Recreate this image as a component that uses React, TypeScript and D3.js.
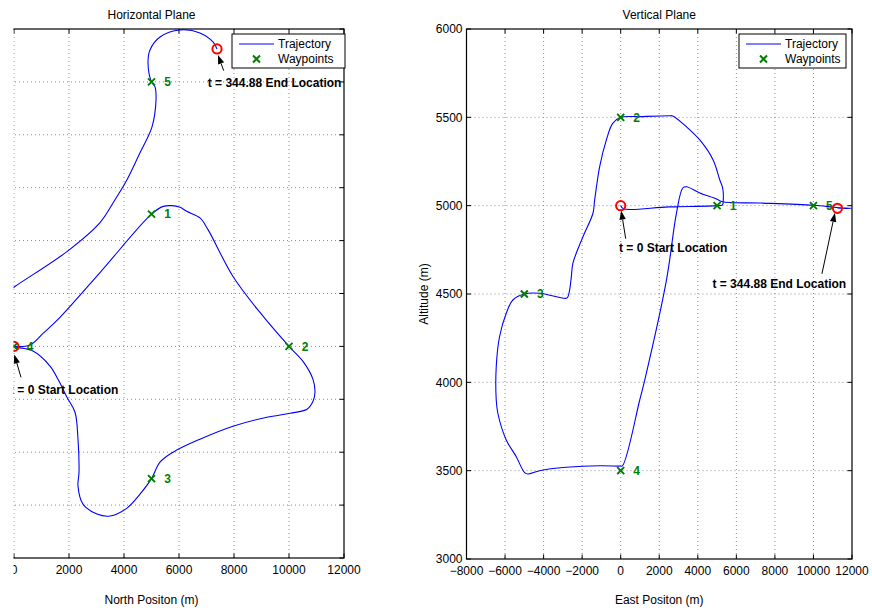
import React from 'react';
import * as d3 from 'd3';

type Pt = [number, number];

// waypoints (numbered 1..5)
const wpLabels = ['1', '2', '3', '4', '5'];
const wpNorth = [5000, 10000, 5000, 0, 5000];
const wpEast = [5000, 0, -5000, 0, 10000];
const wpAlt = [5000, 5500, 4500, 3500, 5000];

const startPoint = { north: 0, east: 0, alt: 5000 };
const endPoint = { north: 7382, east: 11245, alt: 4985 };
const startText = 't = 0 Start Location';
const endText = 't = 344.88 End Location';

// axis ticks
const northDomain: Pt = [-2000, 12000];
const northTicks = [0, 2000, 4000, 6000, 8000, 10000, 12000];
const eastDomain: Pt = [-8000, 12000];
const eastTicks = [-8000, -6000, -4000, -2000, 0, 2000, 4000, 6000, 8000, 10000, 12000];
const altDomain: Pt = [3000, 6000];
const altTicks = [3000, 3500, 4000, 4500, 5000, 5500, 6000];

// horizontal track, [north, east]
const horizTrack: Pt[] = [
  [0, 0], [582, 57], [1055, 491], [1600, 1019], [3127, 2792], [5000, 5000],
  [5429, 5294], [5735, 5321], [6036, 5257], [6280, 5106], [6764, 4857], [7055, 4415],
  [7964, 2642], [8945, 1283], [10000, 0], [10509, -566], [10873, -1245], [10945, -1736],
  [10873, -2075], [10655, -2377], [10036, -2528], [9200, -2679], [7964, -3019],
  [6764, -3509], [5782, -4000], [5309, -4377], [5000, -5000], [4582, -5585],
  [4109, -6113], [3491, -6415], [3018, -6340], [2509, -5962], [2327, -5283],
  [2364, -4755], [2327, -3509], [2218, -2491], [1927, -1925], [1600, -1245],
  [1309, -743], [691, -177], [0, 0],
  [-500, 250], [-800, 800], [-700, 1500], [-300, 2000], [36, 2264], [1927, 3585],
  [3127, 4679], [3673, 5547], [4109, 6302], [4582, 7321], [5018, 8302], [5164, 9321],
  [5127, 9811], [5000, 10000], [4873, 10717], [4945, 11208], [5309, 11698],
  [6036, 11962], [6764, 11849], [7236, 11509], [7382, 11245],
];

// vertical track, [east, altitude]
const vertTrack: Pt[] = [
  [0, 5000], [150, 4982], [2500, 4993], [5000, 5000], [5280, 5005], [5320, 5030],
  [5290, 5100], [5143, 5145], [4795, 5259], [4104, 5372], [3429, 5445], [2701, 5508],
  [2545, 5509], [987, 5504], [0, 5500], [-416, 5466], [-743, 5372], [-1091, 5221],
  [-1351, 5032], [-1439, 4957], [-1958, 4824], [-2478, 4675], [-2561, 4598],
  [-2649, 4523], [-2738, 4485], [-2821, 4476], [-4208, 4504], [-5000, 4500],
  [-5595, 4466], [-5938, 4391], [-6286, 4258], [-6457, 4089], [-6457, 3900],
  [-6374, 3825], [-5938, 3674], [-5418, 3579], [-4987, 3489], [-4816, 3481],
  [-4208, 3500], [-2821, 3519], [-1091, 3528], [-52, 3526], [88, 3527],
  [987, 3900], [1247, 4013], [2374, 4579], [2893, 4958], [3221, 5100], [3413, 5107],
  [4104, 5072], [4971, 5038], [5283, 5022], [7221, 5015], [10000, 5002],
  [11208, 4990], [11962, 4985], [11509, 4985], [11245, 4985],
];

const FONT = '"Liberation Sans", Arial, Helvetica, sans-serif';
const fmt = (v: number) => (v < 0 ? '\u2212' + Math.abs(v) : String(v));

function Arrow({ x1, y1, x2, y2 }: { x1: number; y1: number; x2: number; y2: number }) {
  const a = Math.atan2(y2 - y1, x2 - x1);
  const len = 9, hw = 3.2;
  const bx = x2 - len * Math.cos(a), by = y2 - len * Math.sin(a);
  const px = -Math.sin(a) * hw, py = Math.cos(a) * hw;
  return (
    <g>
      <line x1={x1} y1={y1} x2={bx} y2={by} stroke="#000" strokeWidth={1} />
      <polygon points={`${x2},${y2} ${bx + px},${by + py} ${bx - px},${by - py}`} fill="#000" />
    </g>
  );
}

interface Ann { tip: Pt; tail: Pt; text: Pt; }

interface PanelProps {
  title: string;
  xLabel: string;
  yLabel?: string;
  xDomain: Pt; xRange: Pt; xTicks: number[];
  yDomain: Pt; yRange: Pt; yTicks: number[];
  showYTickLabels: boolean;
  track: Pt[];
  wpX: number[]; wpY: number[];
  start: Pt; end: Pt;
  startAnn: Ann; endAnn: Ann;
  legendX: number; legendW: number;
  clipId?: string;
}

function Panel(p: PanelProps) {
  const x = d3.scaleLinear().domain(p.xDomain).range(p.xRange);
  const y = d3.scaleLinear().domain(p.yDomain).range(p.yRange);
  const [L, R] = p.xRange;
  const [B, T] = p.yRange;
  const line = d3.line<Pt>().x(d => x(d[0])).y(d => y(d[1])).curve(d3.curveCatmullRom.alpha(0.5));
  const tk = 4.5;
  const sx = x(p.start[0]), sy = y(p.start[1]);
  const ex = x(p.end[0]), ey = y(p.end[1]);
  const cx = (L + R) / 2;
  const lg = { x: p.legendX, y: 34, w: p.legendW, h: 34 };

  return (
    <g clipPath={p.clipId ? `url(#${p.clipId})` : undefined} fontFamily={FONT} fontSize={12}>
      {/* grid */}
      {p.xTicks.filter(t => x(t) > L + 1 && x(t) < R - 1).map(t => (
        <line key={'gx' + t} x1={x(t)} x2={x(t)} y1={T} y2={B} stroke="#8c8c8c" strokeWidth={1} strokeDasharray="1,3" />
      ))}
      {p.yTicks.filter(t => y(t) > T + 1 && y(t) < B - 1).map(t => (
        <line key={'gy' + t} x1={L} x2={R} y1={y(t)} y2={y(t)} stroke="#8c8c8c" strokeWidth={1} strokeDasharray="1,3" />
      ))}

      {/* trajectory */}
      <path d={line(p.track) || ''} fill="none" stroke="#0000ff" strokeWidth={1.1} />

      {/* waypoints */}
      {p.wpX.map((wx, i) => {
        const px = x(wx), py = y(p.wpY[i]);
        return (
          <g key={'wp' + i}>
            <path d={`M${px - 3.5},${py - 3.5}L${px + 3.5},${py + 3.5}M${px - 3.5},${py + 3.5}L${px + 3.5},${py - 3.5}`}
              stroke="#008000" strokeWidth={2} />
            <text x={px + 16} y={py + 4.3} fill="#008000" fontWeight="bold" textAnchor="middle">{wpLabels[i]}</text>
          </g>
        );
      })}

      {/* start / end */}
      <circle cx={sx} cy={sy} r={4.6} fill="none" stroke="#ff0000" strokeWidth={2} />
      <circle cx={ex} cy={ey} r={4.6} fill="none" stroke="#ff0000" strokeWidth={2} />
      <Arrow x1={sx + p.startAnn.tail[0]} y1={sy + p.startAnn.tail[1]} x2={sx + p.startAnn.tip[0]} y2={sy + p.startAnn.tip[1]} />
      <Arrow x1={ex + p.endAnn.tail[0]} y1={ey + p.endAnn.tail[1]} x2={ex + p.endAnn.tip[0]} y2={ey + p.endAnn.tip[1]} />
      <text x={sx + p.startAnn.text[0]} y={sy + p.startAnn.text[1]} fontWeight="bold" fill="#000">{startText}</text>
      <text x={ex + p.endAnn.text[0]} y={ey + p.endAnn.text[1]} fontWeight="bold" fill="#000">{endText}</text>

      {/* axes box with inward ticks */}
      <rect x={L} y={T} width={R - L} height={B - T} fill="none" stroke="#000" strokeWidth={1.2} />
      {p.xTicks.map(t => (
        <g key={'tx' + t}>
          <line x1={x(t)} x2={x(t)} y1={B} y2={B - tk} stroke="#000" />
          <line x1={x(t)} x2={x(t)} y1={T} y2={T + tk} stroke="#000" />
          <text x={x(t)} y={B + 16} textAnchor="middle" fill="#000">{fmt(t)}</text>
        </g>
      ))}
      {p.yTicks.map(t => (
        <g key={'ty' + t}>
          <line x1={L} x2={L + tk} y1={y(t)} y2={y(t)} stroke="#000" />
          <line x1={R} x2={R - tk} y1={y(t)} y2={y(t)} stroke="#000" />
          {p.showYTickLabels && (
            <text x={L - 4} y={y(t) + 4.3} textAnchor="end" fill="#000">{fmt(t)}</text>
          )}
        </g>
      ))}

      {/* legend */}
      <rect x={lg.x} y={lg.y} width={lg.w} height={lg.h} fill="#fff" stroke="#000" strokeWidth={1} />
      <line x1={lg.x + 7} x2={lg.x + 42} y1={lg.y + 10} y2={lg.y + 10} stroke="#0000ff" strokeWidth={1.1} />
      <text x={lg.x + 46} y={lg.y + 14.3} fill="#000">Trajectory</text>
      <path d={`M${lg.x + 21},${lg.y + 21.5}L${lg.x + 28},${lg.y + 28.5}M${lg.x + 21},${lg.y + 28.5}L${lg.x + 28},${lg.y + 21.5}`}
        stroke="#008000" strokeWidth={2} />
      <text x={lg.x + 46} y={lg.y + 29.3} fill="#000">Waypoints</text>

      {/* labels */}
      <text x={cx} y={19.3} textAnchor="middle" fill="#000">{p.title}</text>
      <text x={cx} y={604} textAnchor="middle" fill="#000">{p.xLabel}</text>
      {p.yLabel && (
        <text transform={`translate(${L - 39},${(T + B) / 2}) rotate(-90)`} textAnchor="middle" fill="#000">{p.yLabel}</text>
      )}
    </g>
  );
}

export default function App() {
  return (
    <svg width={872} height={611} style={{ position: 'absolute', left: 0, top: 0, background: '#fff' }}>
      <defs>
        <clipPath id="leftClip">
          <rect x={13.5} y={0} width={420} height={611} />
        </clipPath>
      </defs>
      <rect width={872} height={611} fill="#fff" />
      <Panel
        title="Horizontal Plane"
        xLabel="North Positon (m)"
        xDomain={northDomain} xRange={[-41, 344]} xTicks={northTicks}
        yDomain={eastDomain} yRange={[558, 29]} yTicks={eastTicks}
        showYTickLabels={false}
        track={horizTrack}
        wpX={wpNorth} wpY={wpEast}
        start={[startPoint.north, startPoint.east]}
        end={[endPoint.north, endPoint.east]}
        startAnn={{ tip: [0.3, 8], tail: [7, 31], text: [-4, 48] }}
        endAnn={{ tip: [1, 6], tail: [6.7, 21.7], text: [-9.3, 37.7] }}
        legendX={232} legendW={113}
        clipId="leftClip"
      />
      <Panel
        title="Vertical Plane"
        xLabel="East Positon (m)"
        yLabel="Altitude (m)"
        xDomain={eastDomain} xRange={[466.5, 852]} xTicks={eastTicks}
        yDomain={altDomain} yRange={[559, 29]} yTicks={altTicks}
        showYTickLabels={true}
        track={vertTrack}
        wpX={wpEast} wpY={wpAlt}
        start={[startPoint.east, startPoint.alt]}
        end={[endPoint.east, endPoint.alt]}
        startAnn={{ tip: [0.5, 5], tail: [5, 33], text: [-1.7, 46.7] }}
        endAnn={{ tip: [-2.5, 4.5], tail: [-15.5, 65.5], text: [-125, 80] }}
        legendX={739} legendW={107}
      />
    </svg>
  );
}
